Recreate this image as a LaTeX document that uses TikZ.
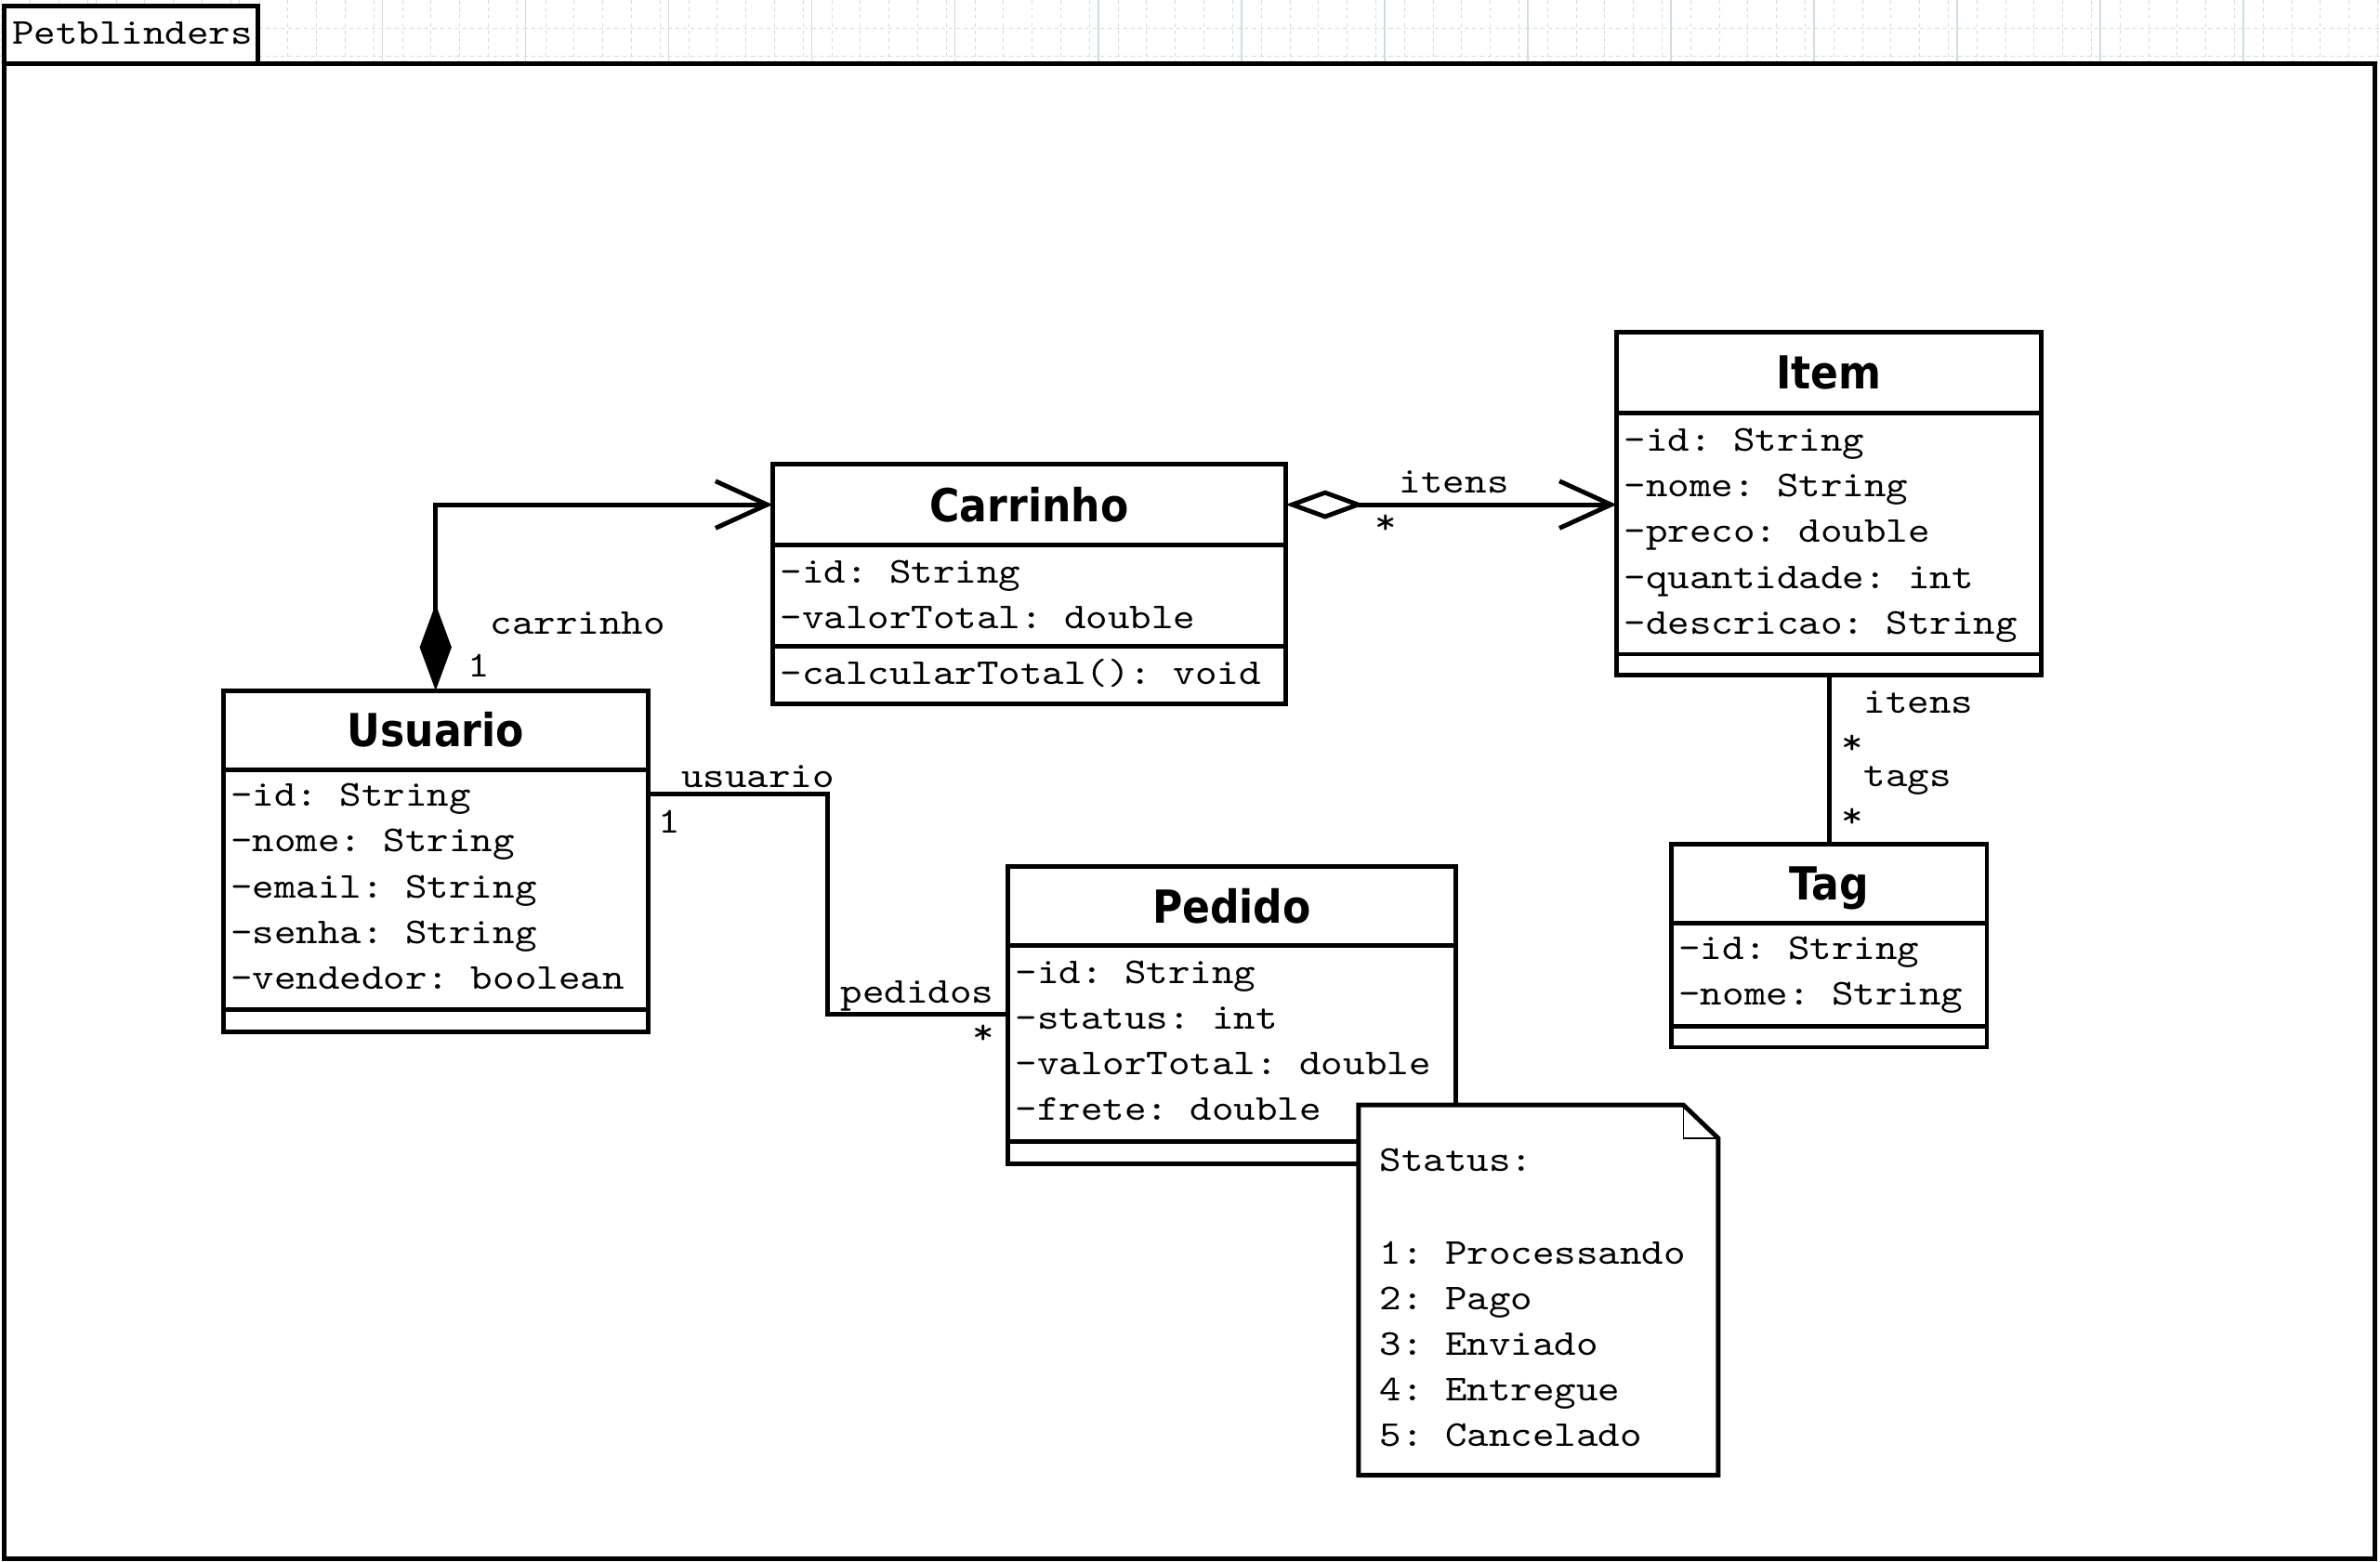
\documentclass[tikz,border=0pt]{standalone}
\usepackage{fontspec}
\setmonofont{lmmono10-regular}[Extension=.otf, FakeStretch=1.143]
\newfontfamily\titlefont{DejaVu Sans Bold}[FakeStretch=0.9]
\usetikzlibrary{arrows.meta}
\definecolor{gridc}{HTML}{CFDDDD}
\begin{document}
\begin{tikzpicture}[x=1pt,y=-1pt,
  every node/.style={inner sep=0pt, outer sep=0pt},
  box/.style={draw, line width=3pt, fill=white, anchor=north west, rectangle},
  area/.style={anchor=north west, rectangle},
  sepline/.style={line width=3pt},
  ttl/.style={anchor=base, font=\titlefont\fontsize{30}{36}\selectfont},
  attr/.style={anchor=base west, font=\ttfamily\fontsize{24}{30}\selectfont},
  lbl/.style={anchor=base west, font=\ttfamily\fontsize{24}{30}\selectfont},
  conn/.style={line width=3pt},
  gridmajor/.style={draw=gridc, line width=0.8pt},
  gridminor/.style={draw=gridc, line width=0.6pt, dash pattern=on 2.5pt off 2.5pt},
]
\useasboundingbox (0,0) rectangle (1568,1028.6);
% background grid
\foreach \k in {-7,...,10} {\draw[gridmajor] ({629.3+94.3*\k},0) -- ({629.3+94.3*\k},42);}
\foreach \k in {0,...,83} {\draw[gridminor] ({1.1+18.86*\k},0) -- ({1.1+18.86*\k},42);}
\draw[gridminor] (0,18.4) -- (1568,18.4);
\draw[gridminor] (0,37.2) -- (1568,37.2);

% package frame
\node[box, minimum width=1561.5pt, minimum height=985pt] (frame) at (3,42) {};
\node[box, minimum width=167pt, minimum height=38pt] (tab) at (3,4) {};
\node[lbl] (tabname) at (8,29) {Petblinders};

% ---------- Carrinho ----------
\node[box, minimum width=338pt, minimum height=158pt] (carrinho) at (509,306) {};
\node[area, minimum width=338pt, minimum height=53pt] (carrinhoT) at (509,306) {};
\node[ttl] (carrinhoN) at (678,343.5) {Carrinho};
\draw[sepline] (carrinho.west |- 0,359) -- (carrinho.east |- 0,359);
\draw[sepline] (carrinho.west |- 0,426) -- (carrinho.east |- 0,426);
\node[attr] (c1) at (514,384) {-id: String};
\node[attr] (c2) at (514,414) {-valorTotal: double};
\node[attr] (c3) at (514,451) {-calcularTotal(): void};

% ---------- Item ----------
\node[box, minimum width=280pt, minimum height=226pt] (item) at (1065,219) {};
\node[area, minimum width=280pt, minimum height=53pt] (itemT) at (1065,219) {};
\node[ttl] (itemN) at (1205,256.5) {Item};
\draw[sepline] (item.west |- 0,272) -- (item.east |- 0,272);
\draw[sepline] (item.west |- 0,431) -- (item.east |- 0,431);
\node[attr] (i1) at (1070,297) {-id: String};
\node[attr] (i2) at (1070,327) {-nome: String};
\node[attr] (i3) at (1070,357) {-preco: double};
\node[attr] (i4) at (1070,388) {-quantidade: int};
\node[attr] (i5) at (1070,418) {-descricao: String};

% ---------- Usuario ----------
\node[box, minimum width=280pt, minimum height=225pt] (usuario) at (147,455) {};
\node[area, minimum width=280pt, minimum height=52pt] (usuarioT) at (147,455) {};
\node[ttl] (usuarioN) at (287,492) {Usuario};
\draw[sepline] (usuario.west |- 0,507) -- (usuario.east |- 0,507);
\draw[sepline] (usuario.west |- 0,665) -- (usuario.east |- 0,665);
\node[attr] (u1) at (152,531) {-id: String};
\node[attr] (u2) at (152,561) {-nome: String};
\node[attr] (u3) at (152,592) {-email: String};
\node[attr] (u4) at (152,622) {-senha: String};
\node[attr] (u5) at (152,652) {-vendedor: boolean};

% ---------- Pedido ----------
\node[box, minimum width=295pt, minimum height=196pt] (pedido) at (664,571) {};
\node[area, minimum width=295pt, minimum height=52pt] (pedidoT) at (664,571) {};
\node[ttl] (pedidoN) at (811.5,608) {Pedido};
\draw[sepline] (pedido.west |- 0,623) -- (pedido.east |- 0,623);
\draw[sepline] (pedido.west |- 0,752) -- (pedido.east |- 0,752);
\node[attr] (p1) at (669,648) {-id: String};
\node[attr] (p2) at (669,678) {-status: int};
\node[attr] (p3) at (669,708) {-valorTotal: double};
\node[attr] (p4) at (669,738) {-frete: double};

% ---------- Tag ----------
\node[box, minimum width=208pt, minimum height=134pt] (tag) at (1101,556) {};
\node[area, minimum width=208pt, minimum height=52pt] (tagT) at (1101,556) {};
\node[ttl] (tagN) at (1205,593) {Tag};
\draw[sepline] (tag.west |- 0,608) -- (tag.east |- 0,608);
\draw[sepline] (tag.west |- 0,676) -- (tag.east |- 0,676);
\node[attr] (t1) at (1106,632) {-id: String};
\node[attr] (t2) at (1106,662) {-nome: String};

% ---------- connectors ----------
% Usuario <>-> Carrinho (composition)
\draw[conn, {Diamond[length=57pt,width=21pt]}-{Straight Barb[length=34pt,width=31pt]}]
  (usuarioT.north) |- (carrinhoT.west);
\node[lbl] (lcarr) at (323,418) {carrinho};
\node[lbl] (lcarr1) at (308,446) {1};

% Carrinho <>-> Item (aggregation)
\draw[conn, {Diamond[open,length=52pt,width=19pt]}-{Straight Barb[length=34pt,width=31pt]}]
  (carrinhoT.east) -- (carrinhoT.east -| item.west);
\node[lbl] (litens) at (922,325) {itens};
\node[lbl] (litensm) at (906,352) {*};

% Usuario -- Pedido
\draw[conn] ([yshift=-68pt]usuario.north east) -- ++(118,0) |- ([yshift=-97pt]pedido.north west);
\node[lbl] (luser) at (449,519) {usuario};
\node[lbl] (luser1) at (434,549) {1};
\node[lbl] (lped) at (554,661) {pedidos};
\node[lbl] (lpedm) at (641,688) {*};

% Item -- Tag
\draw[conn] (item.south) -- (tag.north);
\node[lbl] (litens2) at (1228,470) {itens};
\node[lbl] (litens2m) at (1213,497) {*};
\node[lbl] (ltags) at (1228,518) {tags};
\node[lbl] (ltagsm) at (1213,545) {*};

% ---------- note ----------
\draw[line width=3pt, fill=white, line join=miter]
  (895,728) -- (1109,728) -- (1132,750) -- (1132,972) -- (895,972) -- cycle;
\draw[line width=1pt] (1109,728) -- (1109,750) -- (1132,750);
\node[attr] (n0) at (909,772) {Status:};
\node[attr] (n1) at (909,833) {1: Processando};
\node[attr] (n2) at (909,863) {2: Pago};
\node[attr] (n3) at (909,893) {3: Enviado};
\node[attr] (n4) at (909,923) {4: Entregue};
\node[attr] (n5) at (909,953) {5: Cancelado};
\end{tikzpicture}
\end{document}
